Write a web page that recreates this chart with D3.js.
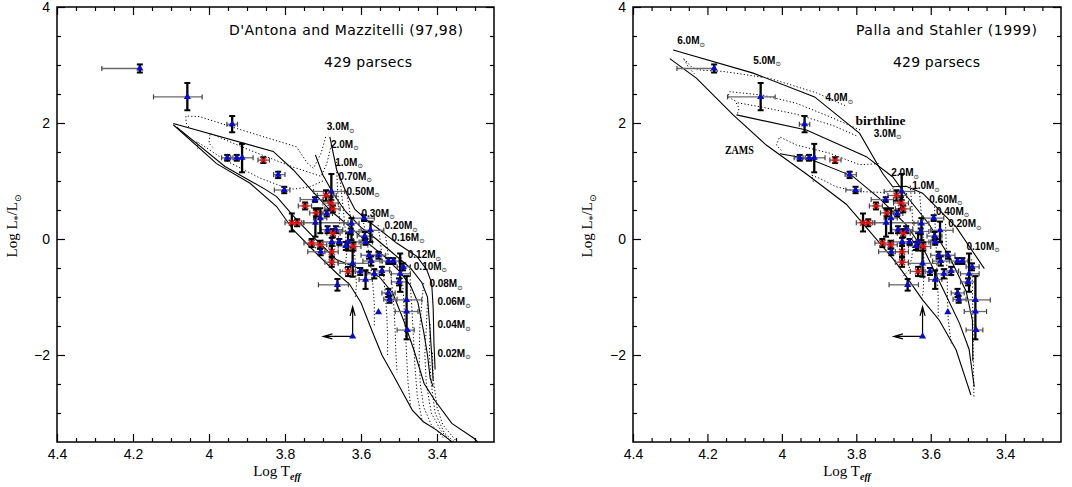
<!DOCTYPE html>
<html><head><meta charset="utf-8">
<script src="https://cdn.jsdelivr.net/npm/d3@7"></script>
<style>body{margin:0;background:#fff} svg{display:block}</style>
</head><body><svg id="c" width="1072" height="487"></svg>
<script>
// ---------- DATA ----------
const xMajor = [4.4, 4.2, 4.0, 3.8, 3.6, 3.4];
const yMajor = [-2, 0, 2, 4];
const xDomain = [4.4, 3.25];
const yDomain = [-3.5, 4];

// stars: [logT, logL, logT left end, logT right end, logL top, logL bottom, type]
const stars = [
 [4.182, 2.94, 4.282, 4.180, 3.01, 2.87, 'b'],
 [4.057, 2.45, 4.146, 4.018, 2.69, 2.22, 'b'],
 [3.939, 1.98, 3.953, 3.925, 2.12, 1.84, 'b'],
 [3.952, 1.40, 3.967, 3.937, 1.45, 1.35, 'b'],
 [3.927, 1.40, 3.943, 3.911, 1.45, 1.35, 'b'],
 [3.913, 1.40, 3.925, 3.884, 1.64, 1.15, 'b'],
 [3.857, 1.36, 3.871, 3.841, 1.41, 1.31, 'r'],
 [3.818, 1.11, 3.830, 3.800, 1.16, 1.05, 'b'],
 [3.802, 0.845, 3.828, 3.787, 0.90, 0.79, 'b'],
 [3.782, 0.28, 3.800, 3.757, 0.44, 0.13, 'r'],
 [3.768, 0.28, 3.785, 3.750, 0.34, 0.22, 'r'],
 [3.747, 0.57, 3.765, 3.730, 0.63, 0.51, 'r'],
 [3.721, 0.68, 3.760, 3.700, 0.72, 0.64, 'b'],
 [3.678, 0.82, 3.725, 3.643, 1.12, 0.67, 'b'],
 [3.692, 0.75, 3.715, 3.665, 0.84, 0.66, 'r'],
 [3.680, 0.62, 3.700, 3.660, 0.72, 0.52, 'r'],
 [3.674, 0.52, 3.695, 3.655, 0.58, 0.46, 'r'],
 [3.690, 0.44, 3.705, 3.675, 0.49, 0.39, 'b'],
 [3.718, 0.45, 3.735, 3.700, 0.51, 0.39, 'r'],
 [3.707, 0.36, 3.725, 3.690, 0.53, 0.10, 'b'],
 [3.720, 0.28, 3.752, 3.634, 0.53, 0.04, 'b'],
 [3.688, 0.16, 3.705, 3.670, 0.22, 0.10, 'b'],
 [3.666, 0.16, 3.685, 3.648, 0.22, 0.10, 'b'],
 [3.674, 0.10, 3.690, 3.655, 0.17, 0.03, 'r'],
 [3.625, 0.27, 3.645, 3.605, 0.36, -0.02, 'b'],
 [3.627, 0.13, 3.650, 3.605, 0.18, 0.08, 'b'],
 [3.592, 0.36, 3.620, 3.565, 0.41, 0.31, 'b'],
 [3.575, 0.15, 3.600, 3.540, 0.30, -0.05, 'b'],
 [3.590, 0.05, 3.610, 3.570, 0.12, -0.02, 'b'],
 [3.588, -0.05, 3.605, 3.570, 0.00, -0.10, 'b'],
 [3.730, -0.07, 3.750, 3.710, 0.00, -0.14, 'r'],
 [3.708, -0.10, 3.728, 3.690, -0.03, -0.17, 'r'],
 [3.706, -0.22, 3.740, 3.680, -0.16, -0.28, 'b'],
 [3.677, -0.05, 3.700, 3.655, 0.02, -0.12, 'b'],
 [3.677, -0.22, 3.695, 3.660, -0.08, -0.30, 'r'],
 [3.677, -0.40, 3.695, 3.660, -0.32, -0.48, 'r'],
 [3.657, -0.05, 3.675, 3.640, 0.00, -0.10, 'b'],
 [3.634, -0.05, 3.660, 3.600, 0.10, -0.20, 'b'],
 [3.620, -0.13, 3.640, 3.600, -0.06, -0.20, 'r'],
 [3.640, -0.12, 3.660, 3.620, -0.05, -0.19, 'b'],
 [3.622, -0.42, 3.660, 3.580, -0.15, -0.65, 'b'],
 [3.634, -0.56, 3.655, 3.615, -0.48, -0.64, 'r'],
 [3.602, -0.56, 3.620, 3.585, -0.50, -0.62, 'b'],
 [3.588, -0.70, 3.605, 3.570, -0.54, -0.86, 'b'],
 [3.579, -0.28, 3.600, 3.560, -0.22, -0.34, 'b'],
 [3.554, -0.28, 3.575, 3.535, -0.22, -0.34, 'b'],
 [3.573, -0.38, 3.595, 3.550, -0.30, -0.46, 'b'],
 [3.565, -0.60, 3.585, 3.545, -0.52, -0.68, 'b'],
 [3.545, -0.55, 3.565, 3.525, -0.48, -0.62, 'b'],
 [3.528, -0.38, 3.545, 3.510, -0.33, -0.43, 'b'],
 [3.515, -0.38, 3.530, 3.500, -0.33, -0.43, 'b'],
 [3.497, -0.60, 3.520, 3.470, -0.25, -0.91, 'b'],
 [3.489, -0.48, 3.505, 3.470, -0.42, -0.54, 'b'],
 [3.500, -0.74, 3.520, 3.480, -0.68, -0.80, 'b'],
 [3.528, -0.93, 3.545, 3.510, -0.86, -1.00, 'b'],
 [3.525, -1.04, 3.540, 3.505, -0.98, -1.10, 'b'],
 [3.480, -1.05, 3.520, 3.440, -0.64, -1.73, 'b'],
 [3.480, -1.25, 3.510, 3.450, -1.25, -1.25, 'b'],
 [3.478, -1.57, 3.505, 3.460, -1.57, -1.57, 'b'],
 [3.554, -1.26, 3.554, 3.554, -1.26, -1.26, 'b'],
 [3.662, -0.79, 3.712, 3.633, -0.69, -0.89, 'b']
];
// upper limit star: [logT, logL, arrow-to logT, arrow-to logL]
const limitStar = [3.622, -1.68, 3.699, -1.17];

// D'Antona & Mazzitelli: isochrones (solid) and tracks (dotted)
const dmIsochrones = [
 [[3.682,1.76],[3.664,1.19],[3.638,0.79],[3.616,0.51],[3.585,0.33],[3.55,0.155],[3.506,-0.07],[3.453,-0.30],[3.427,-0.53],[3.414,-0.76],[3.41,-1.2],[3.408,-1.8],[3.405,-2.25]],
 [[3.72,1.45],[3.70,1.1],[3.67,0.75],[3.64,0.47],[3.60,0.2],[3.56,0.0],[3.515,-0.25],[3.47,-0.5],[3.44,-0.75],[3.425,-1.0],[3.418,-1.6],[3.414,-2.0],[3.41,-2.45]],
 [[4.094,1.99],[3.831,1.51],[3.778,1.19],[3.734,0.87],[3.682,0.5],[3.629,0.21],[3.58,-0.08],[3.535,-0.32],[3.50,-0.55],[3.47,-0.8],[3.45,-1.1],[3.435,-1.6],[3.425,-2.0],[3.418,-2.4],[3.41,-2.55]],
 [[4.085,1.93],[3.958,1.25],[3.853,0.86],[3.822,0.73],[3.769,0.33],[3.717,-0.02],[3.664,-0.36],[3.60,-0.52],[3.552,-0.65],[3.516,-0.94],[3.488,-1.40],[3.461,-1.91],[3.434,-2.49],[3.406,-2.78],[3.361,-3.18],[3.302,-3.44],[3.29,-3.52]],
 [[4.094,1.97],[3.98,1.30],[3.892,0.96],[3.822,0.56],[3.778,0.155],[3.717,-0.25],[3.664,-0.59],[3.63,-0.78],[3.60,-1.1],[3.57,-1.6],[3.545,-2.0],[3.515,-2.35],[3.49,-2.65],[3.465,-2.95],[3.436,-3.15],[3.40,-3.3],[3.356,-3.52]]
];
const dmTracks = [
 [[3.693,1.76],[3.705,1.48],[3.725,1.22],[3.74,1.3],[3.77,1.59],[3.90,1.85],[4.025,2.11],[4.061,2.12],[4.06,2.0],[4.05,1.9]],
 [[3.678,1.62],[3.69,1.30],[3.705,1.08],[3.742,1.16],[3.779,1.24],[3.892,1.53],[3.997,1.82],[4.00,1.65],[3.99,1.58]],
 [[3.70,1.00],[3.735,0.90],[3.778,0.86],[3.813,0.92],[3.866,1.05],[3.958,1.36],[4.032,1.68],[4.03,1.55]],
 [[3.665,1.33],[3.662,0.9],[3.658,0.5],[3.655,0.15],[3.665,-0.12],[3.70,-0.18],[3.74,-0.12]],
 [[3.656,1.09],[3.648,0.6],[3.642,0.2],[3.637,-0.2],[3.642,-0.5],[3.66,-0.6]],
 [[3.638,0.83],[3.628,0.4],[3.62,0.0],[3.615,-0.4],[3.612,-0.8],[3.615,-1.0]],
 [[3.598,0.45],[3.588,0.1],[3.578,-0.3],[3.57,-0.7],[3.565,-1.1],[3.565,-1.5]],
 [[3.555,0.24],[3.548,-0.1],[3.542,-0.5],[3.537,-0.9],[3.532,-1.3],[3.53,-1.7],[3.53,-2.0]],
 [[3.535,0.04],[3.528,-0.3],[3.52,-0.7],[3.514,-1.1],[3.51,-1.6],[3.508,-2.0],[3.505,-2.3]],
 [[3.495,-0.26],[3.492,-0.6],[3.488,-1.0],[3.484,-1.5],[3.48,-2.0],[3.476,-2.5],[3.47,-2.85]],
 [[3.472,-0.46],[3.47,-0.8],[3.466,-1.2],[3.462,-1.7],[3.458,-2.2],[3.452,-2.7],[3.44,-3.1]],
 [[3.435,-0.76],[3.44,-1.1],[3.445,-1.5],[3.447,-2.0],[3.444,-2.5],[3.435,-2.9],[3.415,-3.2],[3.38,-3.45]],
 [[3.425,-1.07],[3.428,-1.5],[3.432,-2.0],[3.428,-2.5],[3.415,-3.0],[3.39,-3.3],[3.36,-3.52]],
 [[3.418,-1.47],[3.42,-2.0],[3.415,-2.5],[3.405,-3.0],[3.38,-3.35],[3.35,-3.52]],
 [[3.412,-1.96],[3.41,-2.4],[3.40,-2.9],[3.385,-3.2],[3.345,-3.52]]
];
const dmLabels = [
 ['3.0', 3.690, 1.94], ['2.0', 3.679, 1.64], ['1.0', 3.668, 1.33], ['0.70', 3.659, 1.09],
 ['0.50', 3.638, 0.83], ['0.30', 3.599, 0.45], ['0.20', 3.538, 0.24], ['0.16', 3.520, 0.04],
 ['0.12', 3.477, -0.26], ['0.10', 3.461, -0.46], ['0.08', 3.420, -0.76], ['0.06', 3.399, -1.07],
 ['0.04', 3.399, -1.47], ['0.02', 3.399, -1.96]
];

// Palla & Stahler: birthline, ZAMS, isochrones (solid) and tracks (dotted)
const psIsochrones = [
 [[4.292,3.26],[4.077,2.86],[3.912,2.45],[3.791,1.82],[3.729,1.13],[3.702,0.90],[3.666,0.91],[3.622,0.79],[3.532,0.21],[3.456,-0.51]],
 [[4.301,3.11],[4.229,2.77],[4.131,2.14],[4.042,1.62],[3.934,1.12],[3.827,0.6],[3.76,0.1],[3.70,-0.35],[3.66,-0.7],[3.622,-1.05],[3.577,-1.40],[3.532,-1.91],[3.492,-2.69]],
 [[4.122,2.14],[3.934,1.88],[3.854,1.65],[3.773,1.42],[3.702,1.07],[3.666,0.75],[3.604,0.25],[3.55,-0.3],[3.505,-0.9],[3.488,-1.4],[3.487,-2.1]],
 [[4.005,1.47],[3.925,1.38],[3.809,1.08],[3.738,0.70],[3.666,0.25],[3.613,-0.25],[3.568,-0.85],[3.523,-1.45],[3.497,-1.9],[3.483,-2.55]]
];
const psTracks = [
 [[3.83,2.30],[3.907,2.52],[4.033,2.77],[4.158,2.89],[4.216,2.91],[4.24,2.95],[4.255,3.05],[4.265,3.12],[4.25,2.95],[4.235,2.85]],
 [[3.79,1.88],[3.872,2.11],[3.961,2.34],[4.051,2.48],[4.14,2.54],[4.145,2.45],[4.125,2.38],[4.115,2.25],[4.12,2.15]],
 [[3.80,1.78],[3.86,1.95],[3.96,2.15],[4.05,2.27],[4.12,2.35]],
 [[3.74,1.30],[3.791,1.28],[3.872,1.48],[3.961,1.62],[4.006,1.76],[4.015,1.62],[4.0,1.52]],
 [[3.70,0.88],[3.72,0.80],[3.80,0.82],[3.854,0.90],[3.90,1.05],[3.92,1.1],[3.915,0.98]],
 [[3.655,0.92],[3.65,0.5],[3.648,0.1],[3.65,-0.3],[3.66,-0.55],[3.675,-0.65]],
 [[3.63,0.80],[3.625,0.4],[3.62,0.0],[3.618,-0.5],[3.62,-0.9],[3.625,-1.05]],
 [[3.59,0.56],[3.588,0.2],[3.585,-0.2],[3.583,-0.6],[3.58,-1.0],[3.58,-1.35]],
 [[3.56,0.26],[3.558,-0.2],[3.556,-0.6],[3.555,-1.0],[3.553,-1.4],[3.545,-1.8]],
 [[3.49,-0.35],[3.488,-0.8],[3.487,-1.3],[3.486,-1.8],[3.485,-2.3],[3.484,-2.75]]
];
const psLabels = [
 ['6.0', 4.281, 3.43], ['5.0', 4.077, 3.09], ['4.0', 3.883, 2.44], ['3.0', 3.753, 1.83],
 ['2.0', 3.706, 1.15], ['1.0', 3.650, 0.93], ['0.60', 3.604, 0.69], ['0.40', 3.586, 0.49],
 ['0.20', 3.553, 0.27], ['0.10', 3.504, -0.12]
];
const psWords = [['birthline', 3.802, 2.05, 50], ['ZAMS', 4.153, 1.55, 29]];

// ---------- DRAW ----------
const svg = d3.select('#c');
const panels = [
 {x0:57, x1:494, title:"D'Antona and Mazzitelli (97,98)", tx:229, tw:234, px:324, pw:88,
  lines:dmIsochrones, tracks:dmTracks, labels:dmLabels, words:[], ylx:17, xlx:277},
 {x0:633, x1:1061, title:"Palla and Stahler (1999)", tx:856, tw:181, px:893, pw:87,
  lines:psIsochrones, tracks:psTracks, labels:psLabels, words:psWords, ylx:592, xlx:847}
];
const Y0 = 7, Y1 = 442;
const sans = "'Liberation Sans', Arial, sans-serif";
const serif = "'Liberation Serif', 'Times New Roman', serif";
const symFont = "'DejaVu Sans', sans-serif";

panels.forEach((p, i) => {
  const x = d3.scaleLinear().domain(xDomain).range([p.x0, p.x1]);
  const y = d3.scaleLinear().domain(yDomain).range([Y1, Y0]);
  const g = svg.append('g');
  const cid = 'clip' + i;
  svg.append('clipPath').attr('id', cid).append('rect')
    .attr('x', p.x0).attr('y', Y0).attr('width', p.x1 - p.x0).attr('height', Y1 - Y0);

  const xMinor = d3.range(1, 23).map(k => +(4.4 - k * 0.05).toFixed(2)).filter(v => !xMajor.some(m => Math.abs(m - v) < 1e-6));
  const yMinor = d3.range(0, 16).map(k => -3.5 + k * 0.5).filter(v => !yMajor.includes(v) && v > -3.5 && v < 4);

  const style = sel => { sel.select('.domain').remove(); sel.selectAll('line').attr('stroke', '#000').attr('stroke-width', 1.2); };
  const lbl = s => s.selectAll('text').attr('font-family', sans).attr('font-size', 14).attr('fill', '#000');
  g.append('g').attr('transform', `translate(0,${Y1})`)
    .call(d3.axisBottom(x).tickValues(xMajor).tickSize(-8).tickPadding(7).tickFormat(d3.format('')))
    .call(style).call(lbl);
  g.append('g').attr('transform', `translate(0,${Y1})`)
    .call(d3.axisBottom(x).tickValues(xMinor).tickSize(-4).tickFormat('')).call(style);
  g.append('g').attr('transform', `translate(0,${Y0})`)
    .call(d3.axisTop(x).tickValues(xMajor).tickSize(-8).tickFormat('')).call(style);
  g.append('g').attr('transform', `translate(0,${Y0})`)
    .call(d3.axisTop(x).tickValues(xMinor).tickSize(-4).tickFormat('')).call(style);
  g.append('g').attr('transform', `translate(${p.x0},0)`)
    .call(d3.axisLeft(y).tickValues(yMajor).tickSize(-8).tickPadding(7).tickFormat(d3.format('')))
    .call(style).call(lbl);
  g.append('g').attr('transform', `translate(${p.x0},0)`)
    .call(d3.axisLeft(y).tickValues(yMinor).tickSize(-4).tickFormat('')).call(style);
  g.append('g').attr('transform', `translate(${p.x1},0)`)
    .call(d3.axisRight(y).tickValues(yMajor).tickSize(-8).tickFormat('')).call(style);
  g.append('g').attr('transform', `translate(${p.x1},0)`)
    .call(d3.axisRight(y).tickValues(yMinor).tickSize(-4).tickFormat('')).call(style);

  g.append('rect').attr('x', p.x0).attr('y', Y0).attr('width', p.x1 - p.x0).attr('height', Y1 - Y0)
    .attr('fill', 'none').attr('stroke', '#000').attr('stroke-width', 1.5);

  // axis titles
  const yl = g.append('text').attr('transform', `translate(${p.ylx},226) rotate(-90)`)
    .attr('text-anchor', 'middle').attr('font-family', serif).attr('font-size', 15).attr('fill', '#000');
  yl.append('tspan').text('Log  L');
  yl.append('tspan').attr('font-size', 10).attr('dy', 4).text('*');
  yl.append('tspan').attr('dy', -4).text('/L');
  yl.append('tspan').attr('font-size', 9).attr('font-family', symFont).attr('dy', 4).text('\u2299');
  const xl = g.append('text').attr('x', p.xlx).attr('y', 476)
    .attr('text-anchor', 'middle').attr('font-family', serif).attr('font-size', 15).attr('fill', '#000');
  xl.append('tspan').text('Log  T');
  xl.append('tspan').attr('font-size', 10).attr('font-weight', 'bold').attr('font-style', 'italic').attr('dy', 4).text('eff');

  // titles
  g.append('text').attr('x', p.tx).attr('y', 35).attr('font-family', "'DejaVu Sans', sans-serif").attr('font-size', 14)
    .attr('textLength', p.tw).attr('lengthAdjust', 'spacing').attr('fill', '#000').text(p.title);
  g.append('text').attr('x', p.px).attr('y', 67).attr('font-family', "'DejaVu Sans', sans-serif").attr('font-size', 14)
    .attr('textLength', p.pw).attr('lengthAdjust', 'spacing').attr('fill', '#000').text('429 parsecs');

  // model lines
  const line = d3.line().x(d => x(d[0])).y(d => y(d[1]));
  const lg = g.append('g').attr('clip-path', `url(#${cid})`);
  lg.selectAll('path.trk').data(p.tracks).join('path').attr('class', 'trk').attr('d', line)
    .attr('fill', 'none').attr('stroke', '#000').attr('stroke-width', 1).attr('stroke-dasharray', '1.2,2.2');
  lg.selectAll('path.iso').data(p.lines).join('path').attr('class', 'iso').attr('d', line)
    .attr('fill', 'none').attr('stroke', '#000').attr('stroke-width', 1.1);

  // mass labels
  p.labels.forEach(([m, t, l]) => {
    const tx = g.append('text').attr('x', x(t)).attr('y', y(l) + 4).attr('font-family', sans)
      .attr('font-weight', 'bold').attr('font-size', 10).attr('fill', '#000');
    tx.append('tspan').text(m + 'M');
    tx.append('tspan').attr('font-family', symFont).attr('font-weight', 'normal').attr('font-size', 6.5).attr('dy', 2.5).text('\u2299');
  });
  p.words.forEach(([w, t, l, len]) => {
    g.append('text').attr('x', x(t)).attr('y', y(l) + 5).attr('font-family', serif).attr('font-weight', 'bold')
      .attr('font-size', 12).attr('textLength', len).attr('lengthAdjust', 'spacingAndGlyphs').attr('fill', '#000').text(w);
  });

  // data: horizontal error bars
  const dg = g.append('g');
  stars.forEach(s => {
    const [t, l, t1, t2] = s;
    if (t1 !== t2) {
      const yy = y(l);
      dg.append('line').attr('x1', x(t1)).attr('x2', x(t2)).attr('y1', yy).attr('y2', yy).attr('stroke', '#6a6a6a').attr('stroke-width', 1.3);
      [t1, t2].forEach(tt => dg.append('line').attr('x1', x(tt)).attr('x2', x(tt)).attr('y1', yy - 2.5).attr('y2', yy + 2.5).attr('stroke', '#444').attr('stroke-width', 1.2));
    }
  });
  stars.forEach(s => {
    const [t, l, , , l1, l2] = s;
    if (l1 !== l2) {
      const xx = x(t);
      dg.append('line').attr('x1', xx).attr('x2', xx).attr('y1', y(l1)).attr('y2', y(l2)).attr('stroke', '#000').attr('stroke-width', 2.3);
      [l1, l2].forEach(ll => dg.append('line').attr('x1', xx - 3).attr('x2', xx + 3).attr('y1', y(ll)).attr('y2', y(ll)).attr('stroke', '#000').attr('stroke-width', 2));
    }
  });
  const tri = d3.symbol(d3.symbolTriangle).size(22)();
  stars.forEach(s => {
    const xx = x(s[0]), yy = y(s[1]);
    if (s[6] === 'b') {
      dg.append('path').attr('d', tri).attr('transform', `translate(${xx},${yy})`).attr('fill', '#0a0ad0');
    } else {
      dg.append('path').attr('d', `M${xx-3},${yy-3}L${xx+3},${yy+3}M${xx-3},${yy+3}L${xx+3},${yy-3}M${xx-3.5},${yy}L${xx+3.5},${yy}`)
        .attr('stroke', '#e01010').attr('stroke-width', 1.4);
    }
  });
  // upper limit star with arrows
  const [lt, ll, at, al] = limitStar;
  const lx = x(lt), ly = y(ll), ax = x(at), ay = y(al);
  dg.append('path').attr('d', `M${lx},${ly}L${lx},${ay}M${lx-2.5},${ay+9}L${lx},${ay}L${lx+2.5},${ay+9}M${lx},${ly}L${ax},${ly}M${ax+9},${ly-2.5}L${ax},${ly}L${ax+9},${ly+2.5}`)
    .attr('fill', 'none').attr('stroke', '#000').attr('stroke-width', 1.2);
  dg.append('path').attr('d', tri).attr('transform', `translate(${lx},${ly})`).attr('fill', '#0a0ad0');
});
</script></body></html>
